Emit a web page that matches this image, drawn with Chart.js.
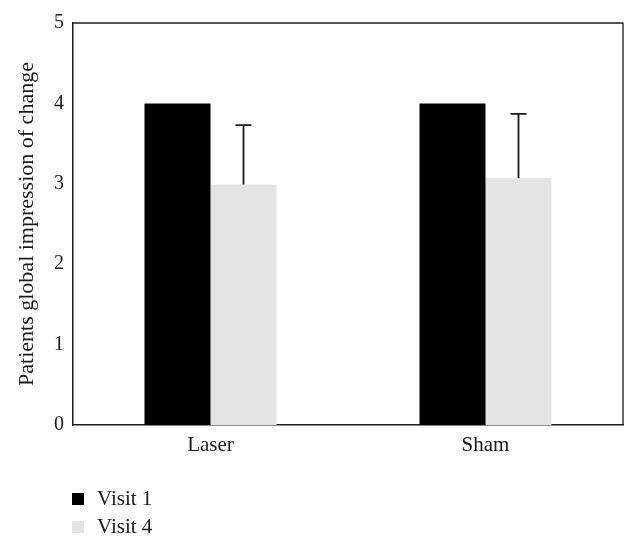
<!DOCTYPE html>
<html><head><meta charset="utf-8">
<script src="https://cdn.jsdelivr.net/npm/chart.js@4/dist/chart.umd.min.js"></script>
<style>html,body{margin:0;padding:0;background:#fff}#wrap{width:638px;height:547px;position:relative}</style>
</head><body><div id="wrap"><canvas id="c" width="638" height="547"></canvas></div>
<script>
const categories = ['Laser', 'Sham'];
const seriesNames = ['Visit 1', 'Visit 4'];
const visit1 = [4, 4];
const visit4 = [2.99, 3.07];
const visit1Err = [0, 0];
const visit4Err = [0.74, 0.80];
const yTicks = [0, 1, 2, 3, 4, 5];
const yTitle = 'Patients global impression of change';

const FONT = '"Liberation Serif", "DejaVu Serif", serif';
const INK = '#1a1a1a';

const errorBarPlugin = {
  id: 'errorBars',
  afterDatasetsDraw(chart) {
    const ctx = chart.ctx, y = chart.scales.y;
    chart.data.datasets.forEach((ds, i) => {
      const meta = chart.getDatasetMeta(i);
      meta.data.forEach((el, j) => {
        const e = ds.errors ? ds.errors[j] : 0;
        if (!e) return;
        const top = y.getPixelForValue(ds.data[j] + e);
        ctx.save();
        ctx.strokeStyle = INK;
        ctx.lineWidth = 1.8;
        ctx.beginPath();
        ctx.moveTo(el.x, el.y);
        ctx.lineTo(el.x, top);
        ctx.moveTo(el.x - 8, top);
        ctx.lineTo(el.x + 8, top);
        ctx.stroke();
        ctx.restore();
      });
    });
  }
};

const framePlugin = {
  id: 'frame',
  afterDraw(chart) {
    const {ctx, chartArea: a} = chart;
    ctx.save();
    ctx.strokeStyle = INK;
    ctx.lineWidth = 1.3;
    ctx.beginPath();
    ctx.moveTo(a.left, a.top);
    ctx.lineTo(a.right, a.top);
    ctx.lineTo(a.right, a.bottom);
    ctx.stroke();
    ctx.restore();
  }
};

const legendPlugin = {
  id: 'vlegend',
  afterDraw(chart) {
    const ctx = chart.ctx;
    ctx.save();
    ctx.font = '21px ' + FONT;
    ctx.textBaseline = 'middle';
    ctx.textAlign = 'left';
    chart.data.datasets.forEach((ds, i) => {
      const cy = 499 + i * 28;
      ctx.fillStyle = ds.backgroundColor;
      ctx.fillRect(72, cy - 6, 12, 12);
      ctx.fillStyle = INK;
      ctx.fillText(ds.label, 97, cy);
    });
    ctx.restore();
  }
};

new Chart(document.getElementById('c'), {
  type: 'bar',
  data: {
    labels: categories,
    datasets: [
      {label: seriesNames[0], data: visit1, errors: visit1Err, backgroundColor: '#000000', borderWidth: 0},
      {label: seriesNames[1], data: visit4, errors: visit4Err, backgroundColor: '#e4e4e4', borderWidth: 0}
    ]
  },
  options: {
    responsive: false,
    animation: false,
    devicePixelRatio: 1,
    categoryPercentage: 0.48,
    barPercentage: 1.0,
    layout: {padding: {left: 0, top: 23, right: 15, bottom: 0}},
    plugins: {legend: {display: false}, tooltip: {enabled: false}},
    scales: {
      x: {
        grid: {display: false, drawTicks: false},
        border: {display: true, color: INK, width: 1.5},
        ticks: {color: INK, font: {family: FONT, size: 21}, padding: 8},
        afterFit(s) { s.height = 122; }
      },
      y: {
        min: 0, max: 5,
        grid: {display: false, drawTicks: false},
        border: {display: true, color: INK, width: 1.5},
        afterBuildTicks(s) { s.ticks = yTicks.map(v => ({value: v})); },
        ticks: {color: INK, font: {family: FONT, size: 20}, padding: 9},
        title: {display: true, text: yTitle, color: INK, font: {family: FONT, size: 22}, padding: {top: 14, bottom: 0}},
        afterFit(s) { s.width = 73; }
      }
    }
  },
  plugins: [errorBarPlugin, framePlugin, legendPlugin]
});
</script></body></html>
